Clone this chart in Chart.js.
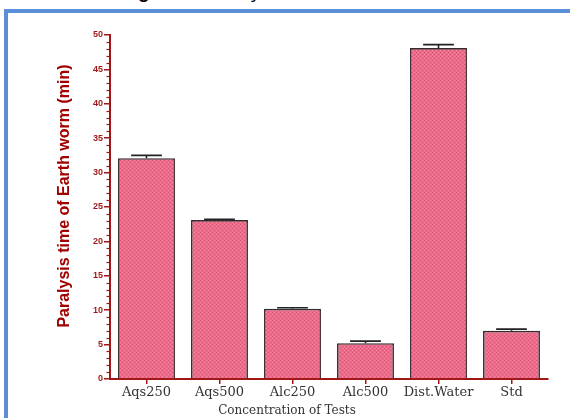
<!DOCTYPE html>
<html>
<head>
<meta charset="utf-8">
<script src="https://cdn.jsdelivr.net/npm/chart.js@4.4.1/dist/chart.umd.min.js"></script>
<style>
  html, body { margin: 0; padding: 0; background: #fff; }
  body { width: 570px; height: 418px; position: relative; overflow: hidden; }
  #caption {
    position: absolute; left: 0; width: 570px; top: -19px;
    text-align: center; font: italic 19px "Liberation Sans", Arial, sans-serif;
    color: #000; white-space: nowrap;
  }
  #frame {
    position: absolute; left: 4px; top: 9px; width: 600px; height: 450px;
    border-left: 4px solid #5b8fd6; border-top: 4px solid #5b8fd6;
  }
  #chart { position: absolute; left: 0; top: 0; }
</style>
</head>
<body>
<div id="caption"><b>Figure 1:</b> Paralysis time of earth worm</div>
<div id="frame"></div>
<canvas id="chart" width="570" height="418"></canvas>
<script>
// Paralysis time of earth worms for each test group (minutes, mean ± error)
const categories = ['Aqs250', 'Aqs500', 'Alc250', 'Alc500', 'Dist.Water', 'Std'];
const paralysisTime = [32.1, 23.1, 10.2, 5.2, 48.1, 7.0];
const errorValues = [0.4, 0.1, 0.15, 0.3, 0.5, 0.25];
const yTicks = [0, 5, 10, 15, 20, 25, 30, 35, 40, 45, 50];

const axisRed = '#9e1616';

// dotted pink fill for the bars
function makeBarPattern() {
  const c = document.createElement('canvas');
  c.width = 4; c.height = 4;
  const g = c.getContext('2d');
  g.fillStyle = '#ee6a8a';
  g.fillRect(0, 0, 4, 4);
  g.fillStyle = '#dc5577';
  g.fillRect(0, 0, 1, 1);
  g.fillRect(2, 2, 1, 1);
  g.fillStyle = '#f58aa3';
  g.fillRect(2, 0, 1, 1);
  g.fillRect(0, 2, 1, 1);
  return g.createPattern(c, 'repeat');
}

// upward error bars with caps
const errorBars = {
  id: 'errorBars',
  afterDatasetsDraw(chart) {
    const { ctx } = chart;
    const yScale = chart.scales.y;
    const meta = chart.getDatasetMeta(0);
    ctx.save();
    ctx.strokeStyle = '#222';
    ctx.lineWidth = 1.6;
    meta.data.forEach((bar, i) => {
      const top = yScale.getPixelForValue(paralysisTime[i] + errorValues[i]);
      const half = bar.width * 0.27;
      ctx.beginPath();
      ctx.moveTo(bar.x, bar.y);
      ctx.lineTo(bar.x, top);
      ctx.moveTo(bar.x - half, top);
      ctx.lineTo(bar.x + half, top);
      ctx.stroke();
    });
    ctx.restore();
  }
};

// minor ticks on the value axis and the two axis titles
const axisDecor = {
  id: 'axisDecor',
  afterDraw(chart) {
    const { ctx, chartArea } = chart;
    const yScale = chart.scales.y;
    ctx.save();
    ctx.strokeStyle = axisRed;
    ctx.lineWidth = 1.2;
    for (let v = 0; v <= 50; v++) {
      if (v % 5 === 0) continue;
      const y = Math.round(yScale.getPixelForValue(v)) + 0.5;
      ctx.beginPath();
      ctx.moveTo(chartArea.left - 3.5, y);
      ctx.lineTo(chartArea.left, y);
      ctx.stroke();
    }
    // y title
    ctx.fillStyle = '#a00000';
    ctx.font = 'bold 16px "Liberation Sans", Arial, sans-serif';
    ctx.textAlign = 'center';
    ctx.textBaseline = 'middle';
    ctx.translate(65, 196);
    ctx.rotate(-Math.PI / 2);
    ctx.fillText('Paralysis time of Earth worm (min)', 0, 0);
    ctx.setTransform(1, 0, 0, 1, 0, 0);
    // x title
    ctx.fillStyle = '#333';
    ctx.font = '12px "DejaVu Serif", serif';
    ctx.fillText('Concentration of Tests', 287, 411);
    ctx.restore();
  }
};

new Chart(document.getElementById('chart'), {
  type: 'bar',
  data: {
    labels: categories,
    datasets: [{
      data: paralysisTime,
      backgroundColor: makeBarPattern(),
      borderColor: '#3a2a2e',
      borderWidth: { top: 1.6, left: 1.6, right: 1.6, bottom: 0 },
      borderSkipped: false,
      categoryPercentage: 0.78,
      barPercentage: 1.0
    }]
  },
  options: {
    responsive: false,
    animation: false,
    devicePixelRatio: 1,
    layout: { padding: { left: 0, top: 35, right: 22, bottom: 0 } },
    plugins: { legend: { display: false }, tooltip: { enabled: false } },
    scales: {
      x: {
        offset: true,
        grid: { offset: false, drawOnChartArea: false, color: axisRed, lineWidth: 1.5, tickLength: 5 },
        border: { color: axisRed, width: 2 },
        ticks: {
          color: '#333', padding: 1, maxRotation: 0, minRotation: 0, autoSkip: false,
          font: { family: '"DejaVu Serif", serif', size: 13 }
        },
        afterFit(scale) { scale.height = 39; }
      },
      y: {
        min: 0, max: 50,
        afterBuildTicks(scale) { scale.ticks = yTicks.map(v => ({ value: v })); },
        grid: { drawOnChartArea: false, color: axisRed, lineWidth: 1.5, tickLength: 6 },
        border: { color: axisRed, width: 2 },
        ticks: { color: axisRed, padding: 1, font: { family: '"Liberation Sans", Arial, sans-serif', size: 9, weight: 'bold' } },
        afterFit(scale) { scale.width = 110; }
      }
    }
  },
  plugins: [errorBars, axisDecor]
});
</script>
</body>
</html>
